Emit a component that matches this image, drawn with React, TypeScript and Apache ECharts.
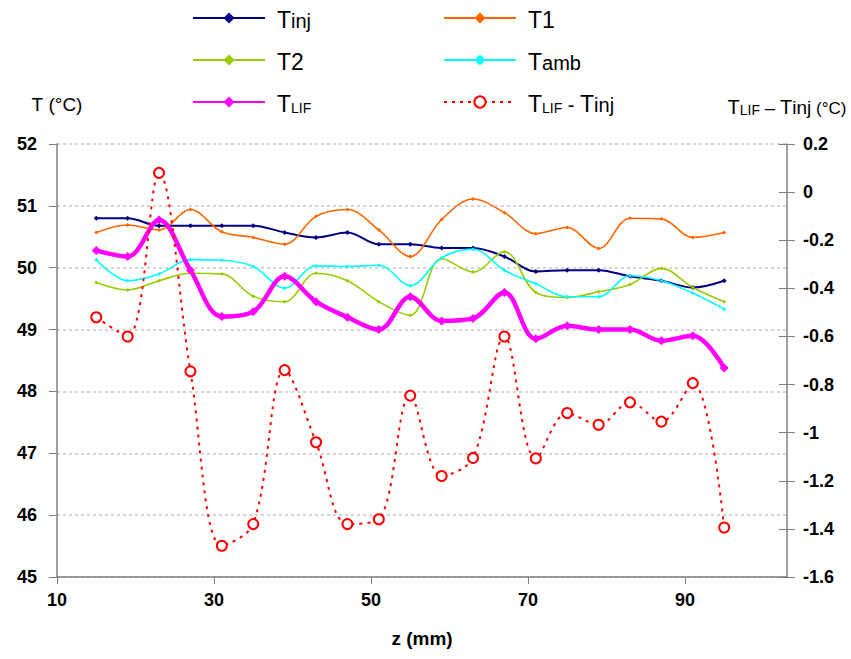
import React, { useEffect, useRef } from "react";
import * as echarts from "echarts";

const z = [15, 19, 23, 27, 31, 35, 39, 43, 47, 51, 55, 59, 63, 67, 71, 75, 79, 83, 87, 91, 95];
const tInj = [50.8, 50.8, 50.68, 50.68, 50.68, 50.68, 50.57, 50.49, 50.57, 50.38, 50.38, 50.32, 50.32, 50.18, 49.94, 49.96, 49.96, 49.86, 49.79, 49.68, 49.79];
const t1 = [50.57, 50.69, 50.61, 50.94, 50.58, 50.49, 50.38, 50.83, 50.94, 50.61, 50.18, 50.78, 51.11, 50.89, 50.55, 50.65, 50.31, 50.8, 50.79, 50.49, 50.57];
const t2 = [49.76, 49.64, 49.79, 49.91, 49.9, 49.54, 49.45, 49.91, 49.79, 49.45, 49.23, 50.15, 49.93, 50.26, 49.6, 49.52, 49.61, 49.73, 49.99, 49.68, 49.45];
const tAmb = [50.13, 49.79, 49.9, 50.13, 50.12, 50.02, 49.67, 50.03, 50.02, 50.04, 49.71, 50.16, 50.3, 49.96, 49.74, 49.53, 49.53, 49.87, 49.79, 49.59, 49.33];
const tLif = [50.28, 50.18, 50.77, 49.96, 49.21, 49.29, 49.86, 49.45, 49.2, 49.0, 49.53, 49.14, 49.18, 49.6, 48.85, 49.06, 49.0, 49.0, 48.82, 48.9, 48.38];
const diff = [-0.52, -0.6, 0.08, -0.745, -1.47, -1.38, -0.74, -1.04, -1.38, -1.36, -0.846, -1.18, -1.105, -0.6, -1.107, -0.918, -0.967, -0.874, -0.954, -0.794, -1.394];
const xTicks = [10, 30, 50, 70, 90];

const FONT = "'Liberation Sans', Arial, sans-serif";

export default function App() {
  const ref = useRef<HTMLDivElement>(null);
  useEffect(() => {
    const chart = echarts.init(ref.current!, null, { renderer: "svg" });
    const pairs = (ys: number[]) => z.map((x, i) => [x, ys[i]]);
    const base = { fontFamily: FONT, color: "#000", verticalAlign: "bottom" as const };
    const rich: any = {
      g: { ...base, width: 7, fontSize: 12 },
      T: { ...base, fontSize: 23, lineHeight: 26 },
      s: { ...base, fontSize: 20, lineHeight: 24 },
      c: { ...base, fontSize: 14, lineHeight: 18 },
    };
    const axRich: any = {
      T: { ...base, fontSize: 19, lineHeight: 21 },
      R: { ...base, fontSize: 20, lineHeight: 22 },
      s: { ...base, fontSize: 19, lineHeight: 21 },
      c: { ...base, fontSize: 14, lineHeight: 17 },
      u: { ...base, fontSize: 19, lineHeight: 21 },
      v: { ...base, fontSize: 17, lineHeight: 20 },
      L: { ...base, fontSize: 18, lineHeight: 21 },
    };
    const legendDefs = [
      { name: "Tinj", left: 192, top: 8, fmt: "{g|}{T|T}{s|inj}" },
      { name: "T1", left: 443, top: 8, fmt: "{g|}{T|T1}" },
      { name: "T2", left: 192, top: 50, fmt: "{g|}{T|T2}" },
      { name: "Tamb", left: 443, top: 50, fmt: "{g|}{T|T}{s|amb}" },
      { name: "TLIF", left: 192, top: 92, fmt: "{g|}{T|T}{c|LIF}" },
      { name: "TLIF - Tinj", left: 443, top: 92, fmt: "{g|}{T|T}{c|LIF}{s| - }{T|T}{s|inj}" },
    ];
    const labelStyle = { fontFamily: FONT, fontWeight: "bold" as const, fontSize: 18, color: "#000" };
    const axisLine = { show: true, onZero: false, lineStyle: { color: "#7f7f7f", width: 1.5 } };
    chart.setOption({
      animation: false,
      backgroundColor: "#fff",
      grid: { left: 57, right: 64, top: 144, bottom: 82 },
      legend: legendDefs.map((d) => ({
        data: [d.name],
        left: d.left,
        top: d.top,
        orient: "horizontal",
        padding: 0,
        itemWidth: 72,
        itemHeight: 14,
        selectedMode: false,
        formatter: () => d.fmt,
        textStyle: { rich },
      })),
      xAxis: {
        type: "value",
        min: 10,
        max: 103,
        name: "z (mm)",
        nameLocation: "middle",
        nameGap: 52,
        nameTextStyle: { fontFamily: FONT, fontWeight: "bold", fontSize: 19, color: "#000" },
        axisLine,
        axisTick: { show: true, length: 7, customValues: xTicks, lineStyle: { color: "#7f7f7f" } },
        axisLabel: { ...labelStyle, margin: 14, customValues: xTicks },
        splitLine: { show: false },
      },
      yAxis: [
        {
          type: "value",
          min: 45,
          max: 52,
          interval: 1,
          position: "left",
          name: "{T|T}{u| (°C)}",
          nameLocation: "end",
          nameGap: 30,
          nameTextStyle: { rich: axRich, align: "center" },
          axisLine,
          axisTick: { show: true, length: 8, lineStyle: { color: "#7f7f7f" } },
          axisLabel: { ...labelStyle, margin: 20 },
          splitLine: { show: true, lineStyle: { color: "#c8c8c8", type: [3, 3], width: 1.5 } },
        },
        {
          type: "value",
          min: -1.6,
          max: 0.2,
          interval: 0.2,
          position: "right",
          name: "{R|T}{c|LIF}{L| – }{R|T}{s|inj}{v| (°C)}",
          nameLocation: "end",
          nameGap: 27,
          nameTextStyle: { rich: axRich, align: "center" },
          axisLine,
          axisTick: { show: true, length: 8, lineStyle: { color: "#7f7f7f" } },
          axisLabel: { ...labelStyle, margin: 16 },
          splitLine: { show: false },
        },
        {
          type: "value",
          min: -1.6,
          max: 0.2,
          interval: 0.2,
          position: "right",
          axisLine: { show: false, onZero: false },
          axisTick: { show: true, inside: true, length: 8, lineStyle: { color: "#7f7f7f" } },
          axisLabel: { show: false },
          splitLine: { show: false },
        },
      ],
      series: [
        {
          type: "line", name: "Tinj", data: pairs(tInj), yAxisIndex: 0, smooth: 0.35,
          symbol: "diamond", symbolSize: 5,
          lineStyle: { color: "#000080", width: 2 }, itemStyle: { color: "#000080" },
        },
        {
          type: "line", name: "T1", data: pairs(t1), yAxisIndex: 0, smooth: 0.35,
          symbol: "diamond", symbolSize: 4,
          lineStyle: { color: "#ff6600", width: 1.6 }, itemStyle: { color: "#ff6600" },
        },
        {
          type: "line", name: "T2", data: pairs(t2), yAxisIndex: 0, smooth: 0.35,
          symbol: "diamond", symbolSize: 4,
          lineStyle: { color: "#99cc00", width: 1.6 }, itemStyle: { color: "#99cc00" },
        },
        {
          type: "line", name: "Tamb", data: pairs(tAmb), yAxisIndex: 0, smooth: 0.35,
          symbol: "diamond", symbolSize: 4,
          lineStyle: { color: "#00ffff", width: 1.6 }, itemStyle: { color: "#00ffff" },
        },
        {
          type: "line", name: "TLIF", data: pairs(tLif), yAxisIndex: 0, smooth: 0.35,
          symbol: "diamond", symbolSize: 9,
          lineStyle: { color: "#ff00ff", width: 4.5 }, itemStyle: { color: "#ff00ff" },
        },
        {
          type: "line", name: "TLIF - Tinj", data: pairs(diff), yAxisIndex: 1, smooth: 0.35,
          symbol: "emptyCircle", symbolSize: 10,
          lineStyle: { color: "#ff0000", width: 2, type: [3, 5] },
          itemStyle: { color: "#ff0000", borderWidth: 1.6 },
        },
      ],
    });
    return () => chart.dispose();
  }, []);
  return <div ref={ref} style={{ position: "fixed", left: 0, top: 0, width: 851, height: 659 }} />;
}
